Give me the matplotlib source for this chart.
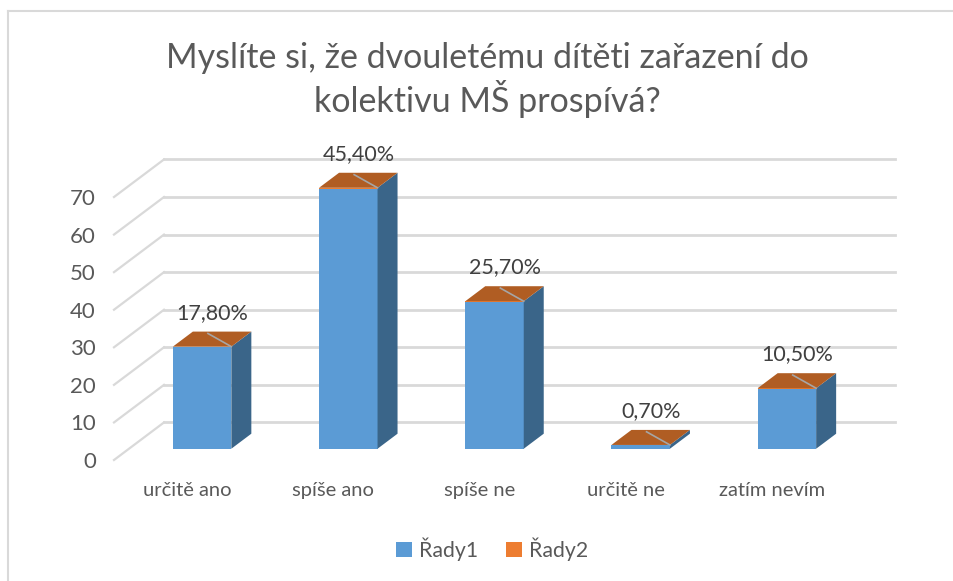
import matplotlib
matplotlib.use('Agg')
import matplotlib.pyplot as plt
from matplotlib.patches import Polygon, Patch
from matplotlib.lines import Line2D

plt.rcParams['font.family'] = ['Lato', 'DejaVu Sans']

categories = ["určitě ano", "spíše ano", "spíše ne", "určitě ne", "zatím nevím"]
rady1 = [27, 69, 39, 1, 16]
rady2 = [0.178, 0.454, 0.257, 0.007, 0.105]
labels = ["17,80%", "45,40%", "25,70%", "0,70%", "10,50%"]
yticks = [0, 10, 20, 30, 40, 50, 60, 70]

c_front = "#5B9BD5"
c_side = "#3A6589"
c_top = "#B05D23"
c_orange = "#ED7D31"
c_grid = "#D9D9D9"
c_text = "#595959"

W, H = 954, 581
fig = plt.figure(figsize=(W / 100, H / 100), dpi=100)

# axes placed so the front floor runs 114..845 px and value 0 sits at y=460 px
px_per_unit = 3.757
ax_left, ax_right, ax_bot = 114, 845, 460
ymax = 90
ax = fig.add_axes([ax_left / W, (H - ax_bot) / H, (ax_right - ax_left) / W, ymax * px_per_unit / H])
ax.set_xlim(-0.5, len(categories) - 0.5)
ax.set_ylim(0, ymax)
for s in ax.spines.values():
    s.set_visible(False)

# depth of the floor / wall
DX, DY = 50 / 146.2, 10.0
f0, f1 = 0.3, 0.7      # bar front and back as depth fraction
bw = 0.4

# gridlines: diagonal on the left wall + horizontal on the back wall
x0 = -0.5
x1 = len(categories) - 0.5
for v in yticks:
    ax.plot([x0, x0 + DX], [v, v + DY], color=c_grid, lw=1.6, zorder=1, clip_on=False)
    ax.plot([x0 + DX, x1 + DX], [v + DY, v + DY], color=c_grid, lw=2.0, zorder=1, clip_on=False)

ax.set_yticks(yticks)
ax.set_yticklabels([str(v) for v in yticks])
ax.set_xticks(range(len(categories)))
ax.set_xticklabels(categories)
ax.tick_params(axis='y', length=0, pad=13, labelsize=16, labelcolor=c_text)
ax.tick_params(axis='x', length=0, pad=16, labelsize=14.5, labelcolor=c_text)

base = f0 * DY
dd = (f1 - f0)
for i, (v1, v2) in enumerate(zip(rady1, rady2)):
    cx = i + f0 * DX
    xl, xr = cx - bw / 2, cx + bw / 2
    ox, oy = dd * DX, dd * DY
    # front faces
    ax.bar(cx, v1, width=bw, bottom=base, color=c_front, zorder=3)
    ax.bar(cx, v2, width=bw, bottom=base + v1, color=c_orange, zorder=3)
    top = base + v1 + v2
    # side face
    side = Polygon([(xr, base), (xr + ox, base + oy), (xr + ox, top + oy), (xr, top)],
                   closed=True, facecolor=c_side, edgecolor='none', zorder=3)
    ax.add_patch(side)
    # top face
    tp = Polygon([(xl, top), (xr, top), (xr + ox, top + oy), (xl + ox, top + oy)],
                 closed=True, facecolor=c_top, edgecolor='none', zorder=4)
    ax.add_patch(tp)
    # label + leader line
    lx = cx + 0.07
    ax.plot([cx + 0.04, xr], [top + 3.5, top], color="#A6A6A6", lw=1.2, zorder=5)
    ax.text(lx, top + 9, labels[i], ha='center', va='center', fontsize=15.5,
            color="#404040", zorder=6)

# title
fig.text(487 / W, 1 - 80 / H, "Myslíte si, že dvouletému dítěti zařazení do\nkolektivu MŠ prospívá?",
         ha='center', va='center', fontsize=24.5, color=c_text, linespacing=1.2)

# legend
handles = [Patch(facecolor=c_front, label="Řady1"), Patch(facecolor=c_orange, label="Řady2")]
leg = fig.legend(handles=handles, loc='center', bbox_to_anchor=(492 / W, 1 - 549 / H), ncol=2,
                 frameon=False, fontsize=15.3, handlelength=0.75, handleheight=0.75,
                 handletextpad=0.35, columnspacing=1.3)
for t in leg.get_texts():
    t.set_color(c_text)

# chart border (left and top visible)
fig.add_artist(Line2D([8 / W, 8 / W], [0, 1 - 11 / H], transform=fig.transFigure, color=c_grid, lw=1.5))
fig.add_artist(Line2D([8 / W, 1], [1 - 11 / H, 1 - 11 / H], transform=fig.transFigure, color=c_grid, lw=1.5))

fig.savefig("out.png", dpi=100)
